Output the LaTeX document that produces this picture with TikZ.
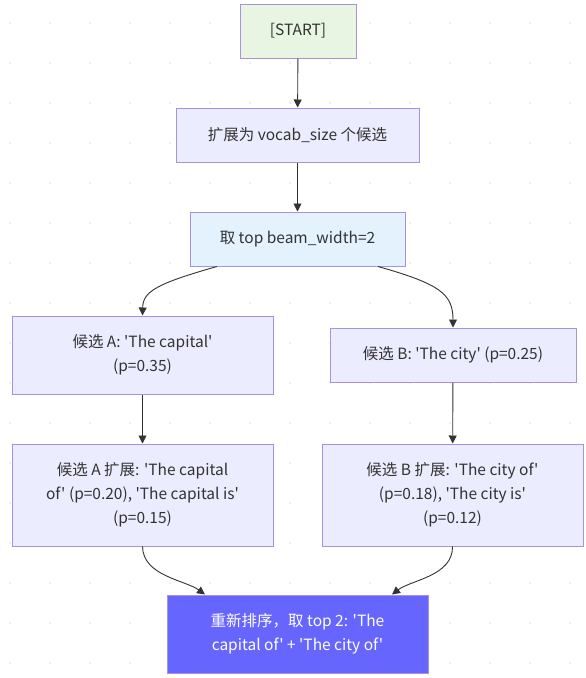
\documentclass[tikz,border=0pt]{standalone}
\usepackage{fontspec}
\setmainfont{Noto Sans CJK SC}[Ligatures=TeXOff]
\usetikzlibrary{arrows.meta}

\definecolor{boxline}{HTML}{A991E0}
\definecolor{boxfill}{HTML}{ECECFF}
\definecolor{startfill}{HTML}{E8F5E3}
\definecolor{topfill}{HTML}{E3F2FD}
\definecolor{rankfill}{HTML}{6666FF}
\definecolor{txt}{HTML}{333333}

\begin{document}
\begin{tikzpicture}[x=1pt, y=-1pt, font=\fontsize{15.5}{24}\selectfont,
    box/.style={draw=boxline, line width=1pt, fill=boxfill, text=txt, align=center, inner sep=0pt},
    arr/.style={-{Triangle[length=8pt,width=8pt]}, draw=txt, line width=0.9pt}]
    % Canvas with dotted grid
    \useasboundingbox (0,0) rectangle (586,678);
    \fill[white] (0,0) rectangle (586,678);
    \foreach \x in {10,50,...,570} {
        \foreach \y in {23,63,...,663} {
            \fill[gray!25] (\x,\y) circle (0.9);
        }
    }

    % Nodes
    \node[box, fill=startfill, minimum width=116pt, minimum height=54pt] (start) at (298,31) {[START]};
    \node[box, minimum width=243pt, minimum height=54pt] (expand) at (297.5,135) {扩展为 vocab\_size 个候选};
    \node[box, fill=topfill, minimum width=215pt, minimum height=54pt] (topk) at (297.5,239) {取 top beam\_width=2};
    \node[box, minimum width=261pt, minimum height=78pt] (candA) at (142.5,355) {候选 A: 'The capital'\\(p=0.35)};
    \node[box, minimum width=246pt, minimum height=54pt] (candB) at (453,355) {候选 B: 'The city' (p=0.25)};
    \node[box, minimum width=261pt, minimum height=102pt] (extA) at (142.5,495) {候选 A 扩展: 'The capital\\of' (p=0.20), 'The capital is'\\(p=0.15)};
    \node[box, minimum width=261pt, minimum height=102pt] (extB) at (452.5,495) {候选 B 扩展: 'The city of'\\(p=0.18), 'The city is'\\(p=0.12)};
    \node[box, fill=rankfill, text=white, minimum width=261pt, minimum height=78pt] (rerank) at (297.5,634) {重新排序，取 top 2: 'The\\capital of' + 'The city of'};

    % Connectors
    \draw[arr] (start) -- (expand);
    \draw[arr] (expand) -- (topk);
    \draw[arr] ([xshift=-80.5pt]topk.south) .. controls (155,284) and (143,292) .. (candA.north);
    \draw[arr] ([xshift=80.5pt]topk.south) .. controls (440,284) and (453,294) .. (candB.north);
    \draw[arr] (candA) -- (extA);
    \draw[arr] (candB) -- (extB);
    \draw[arr] (extA.south) .. controls (143,576) and (185,580) .. ([xshift=-92.5pt]rerank.north);
    \draw[arr] (extB.south) .. controls (453,576) and (411,580) .. ([xshift=94.5pt]rerank.north);
\end{tikzpicture}
\end{document}
